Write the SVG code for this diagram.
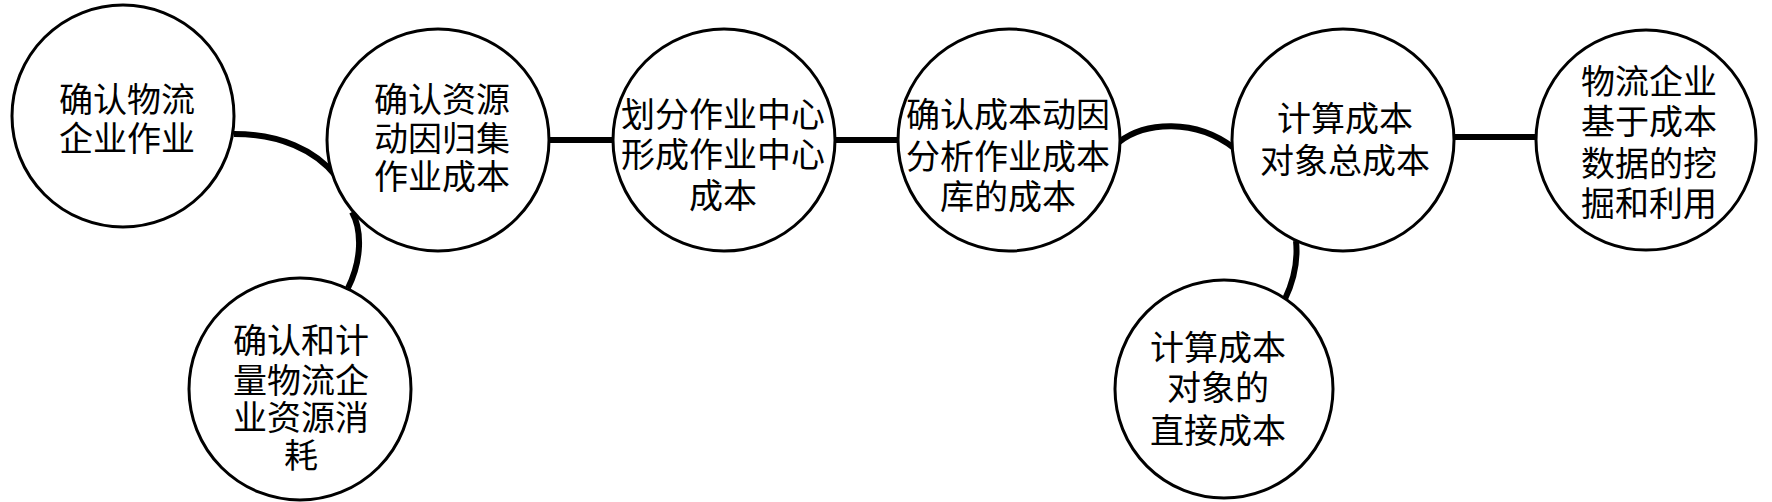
<svg xmlns="http://www.w3.org/2000/svg" width="1772" height="502" viewBox="0 0 1772 502">
<style>
.n{fill:#fff;stroke:#000;stroke-width:3}
.t{font-family:"Liberation Serif","Noto Sans CJK SC",serif;font-size:34px;text-anchor:middle;dominant-baseline:central;fill:#000}
.c{fill:none;stroke:#000;stroke-width:6}
</style>
<rect width="1772" height="502" fill="#fff"/>
<g id="connectors">
<path class="c" d="M234,134 C280,134 315,150 336,176"/>
<path class="c" d="M352,212 C362,230 362,260 348,288"/>
<line class="c" x1="549" y1="140" x2="613" y2="140" stroke-width="7"/>
<line class="c" x1="835" y1="140" x2="898" y2="140" stroke-width="7"/>
<path class="c" d="M1119,142 C1145,122 1195,118 1234,148" stroke-width="7"/>
<path class="c" d="M1296,241 C1298,260 1294,280 1285,299"/>
<line class="c" x1="1454" y1="137" x2="1536" y2="137" stroke-width="7"/>
</g>
<g id="n1"><circle class="n" cx="123" cy="116" r="111"/><text class="t" x="127" y="100">确认物流</text><text class="t" x="127" y="139">企业作业</text></g>
<g id="n2"><circle class="n" cx="438" cy="140" r="111"/><text class="t" x="442" y="100">确认资源</text><text class="t" x="442" y="139">动因归集</text><text class="t" x="442" y="177">作业成本</text></g>
<g id="n3"><circle class="n" cx="300" cy="389" r="111"/><text class="t" x="301" y="341">确认和计</text><text class="t" x="301" y="381">量物流企</text><text class="t" x="301" y="418">业资源消</text><text class="t" x="301" y="456">耗</text></g>
<g id="n4"><circle class="n" cx="724" cy="140" r="111"/><text class="t" x="723" y="115">划分作业中心</text><text class="t" x="723" y="155">形成作业中心</text><text class="t" x="723" y="196">成本</text></g>
<g id="n5"><circle class="n" cx="1009" cy="140" r="111"/><text class="t" x="1008" y="115">确认成本动因</text><text class="t" x="1008" y="157">分析作业成本</text><text class="t" x="1008" y="197">库的成本</text></g>
<g id="n6"><circle class="n" cx="1343" cy="140" r="111"/><text class="t" x="1345" y="119">计算成本</text><text class="t" x="1345" y="161">对象总成本</text></g>
<g id="n7"><circle class="n" cx="1224" cy="389" r="109"/><text class="t" x="1218" y="348">计算成本</text><text class="t" x="1218" y="388">对象的</text><text class="t" x="1218" y="431">直接成本</text></g>
<g id="n8"><circle class="n" cx="1646" cy="140" r="110"/><text class="t" x="1649" y="82">物流企业</text><text class="t" x="1649" y="122">基于成本</text><text class="t" x="1649" y="164">数据的挖</text><text class="t" x="1649" y="204">掘和利用</text></g>
</svg>
